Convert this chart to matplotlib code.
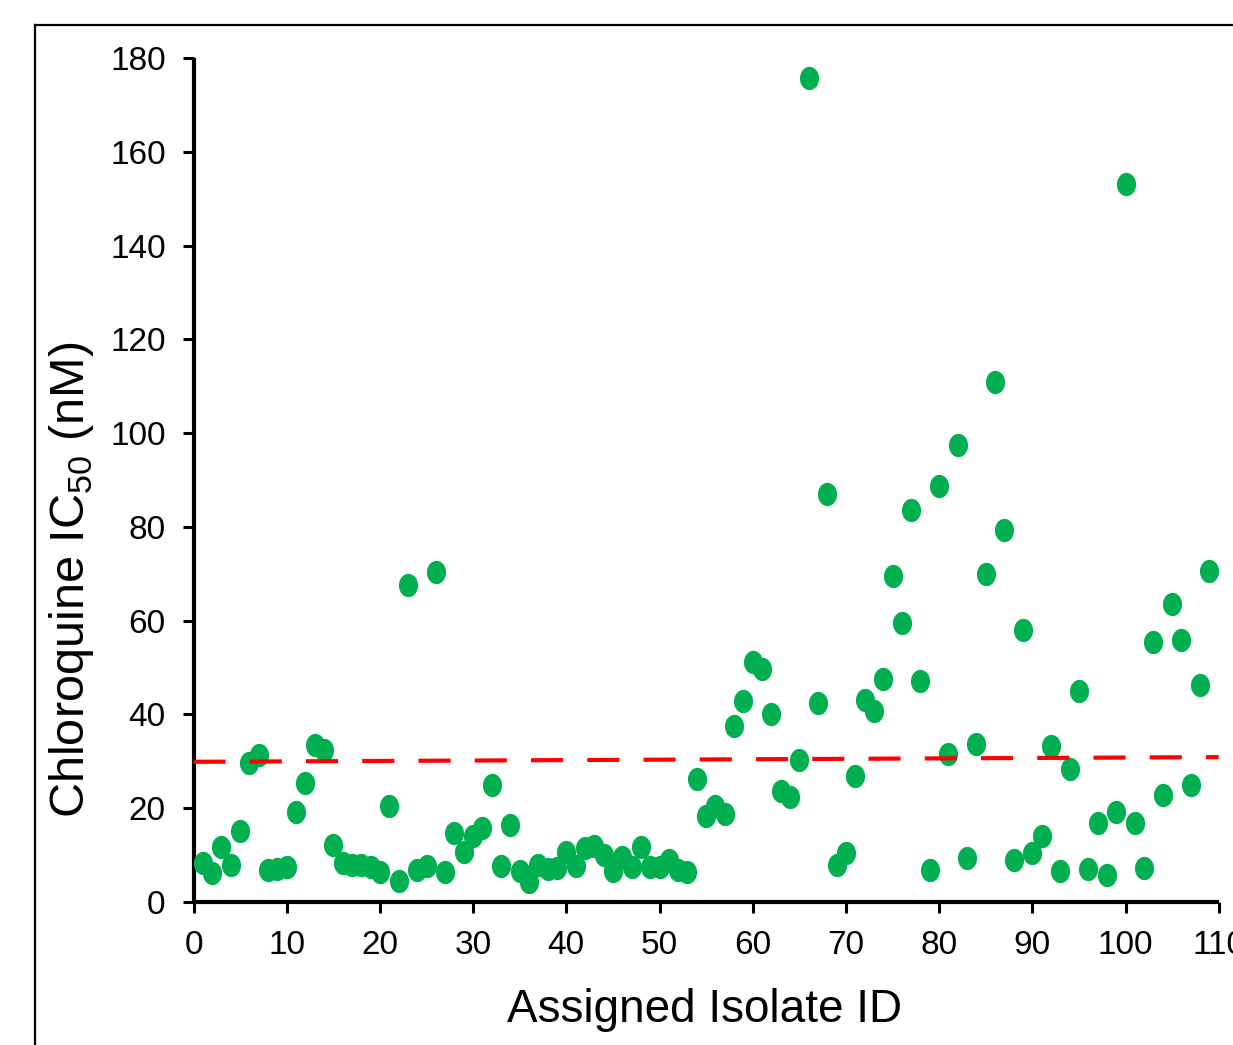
import matplotlib
matplotlib.use("Agg")
import matplotlib.pyplot as plt
import numpy as np
from matplotlib.path import Path
from matplotlib.lines import Line2D

# ---- data ----
isolate_id = list(range(1, 110))
ic50 = [8.3, 6.2, 11.7, 7.9, 15.1, 29.6, 31.3, 6.8, 7.0, 7.5,
        19.2, 25.4, 33.5, 32.4, 12.2, 8.3, 7.9, 7.9, 7.5, 6.4,
        20.5, 4.5, 67.6, 6.8, 7.7, 70.4, 6.4, 14.7, 10.7, 14.1,
        15.8, 25.0, 7.7, 16.4, 6.6, 4.3, 7.9, 7.0, 7.3, 10.7,
        7.7, 11.5, 11.9, 10.0, 6.6, 9.6, 7.5, 11.7, 7.5, 7.5,
        9.0, 6.8, 6.4, 26.2, 18.3, 20.5, 18.8, 37.5, 42.9, 51.2,
        49.7, 40.1, 23.7, 22.4, 30.3, 175.7, 42.4, 87.0, 7.9, 10.4,
        26.9, 43.1, 40.7, 47.6, 69.5, 59.5, 83.6, 47.1, 6.8, 88.7,
        31.6, 97.5, 9.4, 33.7, 70.0, 110.9, 79.3, 9.0, 58.0, 10.4,
        14.1, 33.3, 6.6, 28.4, 45.0, 7.0, 16.8, 5.8, 19.2, 153.1,
        16.8, 7.3, 55.4, 22.8, 63.6, 55.9, 25.0, 46.3, 70.6]
trend_x = [0, 110]
trend_y = [29.9, 30.9]
x_ticks = list(range(0, 111, 10))
y_ticks = list(range(0, 181, 20))
x_label = "Assigned Isolate ID"
y_label = "Chloroquine IC$_{\\mathregular{50}}$ (nM)"

# ---- style ----
W, H, DPI = 1233, 1045, 100
sans = ["Liberation Sans", "DejaVu Sans"]
plt.rcParams["font.family"] = sans

fig = plt.figure(figsize=(W / DPI, H / DPI), dpi=DPI)
fig.patch.set_facecolor("white")

def px2fx(px):
    return px / W

def py2fy(py):
    return 1 - py / H

left, right = 193.5, 1218.7
top, bottom = 58, 902
ax = fig.add_axes([px2fx(left), py2fy(bottom), px2fx(right - left), (bottom - top) / H])
ax.set_xlim(0, 110)
ax.set_ylim(0, 180)

# elliptical marker (slightly taller than wide)
t = np.linspace(0, 2 * np.pi, 60)
ell = Path(np.column_stack([0.41 * np.cos(t), 0.5 * np.sin(t)]), closed=True)

ax.plot(isolate_id, ic50, linestyle="none", marker=ell, ms=16.8,
        color="#00B050", mec="none", clip_on=False, zorder=3)
ax.plot(trend_x, trend_y, color="#FF0000", lw=3.0, dashes=(7.7, 5.8),
        solid_capstyle="butt", dash_capstyle="butt", zorder=4, clip_on=False)

for s in ["top", "right"]:
    ax.spines[s].set_visible(False)
for s in ["left", "bottom"]:
    ax.spines[s].set_linewidth(3.0)
    ax.spines[s].set_capstyle("butt")

ax.set_xticks(x_ticks)
ax.set_yticks(y_ticks)
ax.tick_params(axis="both", direction="out", length=8, width=2.2, colors="black")
ax.tick_params(axis="x", pad=12, labelsize=24)
ax.tick_params(axis="y", pad=12, labelsize=24)

fig.text(px2fx(705), py2fy(1022), x_label, ha="center", va="baseline",
         fontsize=33)
fig.text(px2fx(72), py2fy(580), y_label, ha="center", va="center",
         rotation=90, fontsize=35)

# outer frame (partially visible)
fig.add_artist(Line2D([px2fx(35), px2fx(35)], [py2fy(25), -0.05], color="black",
                      lw=1.6, transform=fig.transFigure))
fig.add_artist(Line2D([px2fx(35), 1.05], [py2fy(25), py2fy(25)], color="black",
                      lw=1.6, transform=fig.transFigure))

fig.savefig("out.png", dpi=DPI)
